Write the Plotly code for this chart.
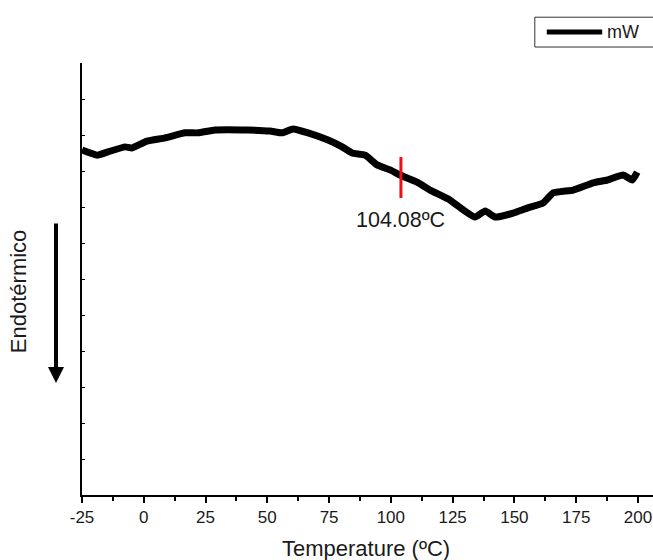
import plotly.graph_objects as go

# Data (temperature in ºC, heat-flow in arbitrary units)
temperature = [-25.0, -18.9, -14.5, -7.6, -4.8, 1.3, 8.6, 16.7, 22.0, 28.8, 42.2,
               51.1, 56.0, 60.4, 66.5, 74.6, 80.3, 84.3, 89.6, 94.4, 99.7, 103.7,
               110.6, 115.9, 124.0, 129.3, 134.1, 138.2, 142.2, 149.5, 155.2, 161.6,
               165.7, 173.8, 181.9, 187.6, 194.0, 197.7, 199.7]
heat_flow = [9.58, 9.44, 9.53, 9.67, 9.64, 9.83, 9.92, 10.06, 10.06, 10.14, 10.14,
             10.11, 10.06, 10.17, 10.06, 9.86, 9.67, 9.50, 9.44, 9.17, 9.03, 8.89,
             8.69, 8.47, 8.19, 7.92, 7.72, 7.89, 7.72, 7.83, 7.97, 8.11,
             8.39, 8.47, 8.67, 8.75, 8.89, 8.75, 8.97]

tg_temp = 104.08
tg_marker_y = [8.25, 9.39]
tg_label_y = 7.64
x_ticks = [-25, 0, 25, 50, 75, 100, 125, 150, 175, 200]
x_tick_labels = ["-25", "0", "25", "50", "75", "100", "125", "150", "175", "200"]
series_name = "mW"

FONT = "Liberation Sans, Arial, sans-serif"
TXT = "#1a1a1a"

fig = go.Figure()
fig.add_trace(go.Scatter(x=temperature, y=heat_flow, mode="lines", name=series_name,
                         line=dict(color="black", width=7, shape="spline", smoothing=0.4),
                         showlegend=False))
fig.add_trace(go.Scatter(x=[tg_temp, tg_temp], y=tg_marker_y, mode="lines",
                         line=dict(color="#ee1111", width=3), showlegend=False,
                         hoverinfo="skip"))

fig.add_annotation(x=tg_temp, y=tg_label_y, text=f"{tg_temp:.2f}ºC", showarrow=False,
                   font=dict(family=FONT, size=21.5, color=TXT), xanchor="center",
                   yanchor="middle")

# Endotérmico arrow
fig.add_annotation(x=-0.0455, y=0.259, xref="paper", yref="paper", ax=0, ay=-161,
                   showarrow=True, arrowhead=2, arrowsize=0.8, arrowwidth=4,
                   arrowcolor="black", text="")

# axis titles
fig.add_annotation(x=0.497, y=-0.123, xref="paper", yref="paper", showarrow=False,
                   text="Temperature (ºC)", font=dict(family=FONT, size=22, color=TXT),
                   xanchor="center", yanchor="middle")
fig.add_annotation(x=-0.112, y=0.472, xref="paper", yref="paper", showarrow=False,
                   text="Endotérmico", textangle=-90,
                   font=dict(family=FONT, size=22, color=TXT),
                   xanchor="center", yanchor="middle")

# legend box (drawn manually to match the long line sample)
fig.add_shape(type="rect", xref="paper", yref="paper", x0=0.793, x1=1.03,
              y0=1.037, y1=1.106, line=dict(color="#333", width=1), fillcolor="white")
fig.add_shape(type="line", xref="paper", yref="paper", x0=0.814, x1=0.911,
              y0=1.072, y1=1.072, line=dict(color="black", width=5))
fig.add_annotation(x=0.916, y=1.072, xref="paper", yref="paper", showarrow=False,
                   text=series_name, font=dict(family=FONT, size=18, color=TXT),
                   xanchor="left", yanchor="middle")

fig.update_layout(
    width=653, height=560,
    margin=dict(l=82, r=0, t=63, b=65),
    plot_bgcolor="white", paper_bgcolor="white",
    font=dict(family=FONT, size=16, color=TXT),
    showlegend=False,
    xaxis=dict(range=[-25, 206.1], tickvals=x_ticks, ticktext=x_tick_labels,
               ticks="outside", ticklen=6,
               tickwidth=2, tickcolor="black", showline=True, linecolor="black",
               linewidth=2, showgrid=False, zeroline=False, automargin=False,
               tickfont=dict(family=FONT, size=17, color=TXT),
               minor=dict(dtick=12.5, tick0=-25, ticks="outside", ticklen=4,
                          tickwidth=1.5, tickcolor="black")),
    yaxis=dict(range=[0, 12], dtick=1, tick0=0, ticks="inside", ticklen=3,
               tickwidth=1, tickcolor="black", showticklabels=False,
               showline=True, linecolor="black", linewidth=2, showgrid=False,
               zeroline=False, automargin=False),
)

fig.write_html(
    "out.html",
    config={"displayModeBar": False},
    post_script="document.body.style.margin='0';"
                "document.documentElement.style.overflow='hidden';",
)
